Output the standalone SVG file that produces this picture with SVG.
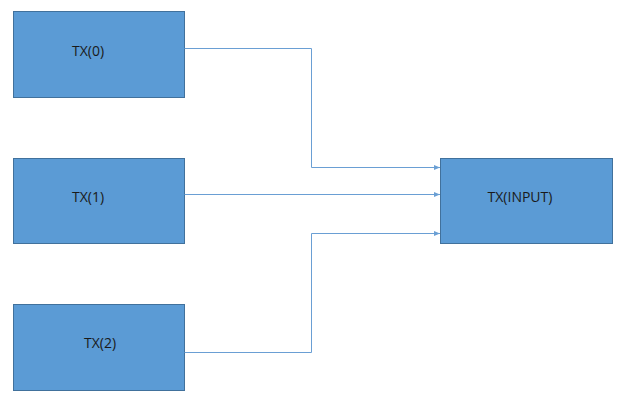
<svg xmlns="http://www.w3.org/2000/svg" width="626" height="404" viewBox="0 0 626 404">
<style>
.box{fill:#5b9bd5;stroke:#41719c;stroke-width:1}
.lbl{font-family:"Open Sans","Liberation Sans",sans-serif;font-size:14px;fill:#1a1a1a;text-anchor:middle}
.con{fill:none;stroke:#6a9fd4;stroke-width:1}
</style>
<defs>
<marker id="ah" viewBox="0 0 10 10" refX="10" refY="5" markerWidth="6" markerHeight="6" orient="auto" markerUnits="userSpaceOnUse">
<path d="M0,1 L10,5 L0,9 z" fill="#6a9fd4"/>
</marker>
</defs>
<g id="tx0"><rect class="box" x="13.5" y="11.5" width="171" height="86"/><text class="lbl" x="88" y="56">TX(0)</text></g>
<g id="tx1"><rect class="box" x="13.5" y="158.5" width="171" height="85"/><text class="lbl" x="88" y="202">TX(1)</text></g>
<g id="tx2"><rect class="box" x="13.5" y="304.5" width="171" height="86"/><text class="lbl" x="100" y="348">TX(2)</text></g>
<g id="txinput"><rect class="box" x="440.5" y="158.5" width="172" height="85"/><text class="lbl" x="520" y="202">TX(INPUT)</text></g>
<g id="connectors">
<path class="con" d="M184.5,48.5 H311.5 V167.5 H440" marker-end="url(#ah)"/>
<path class="con" d="M184.5,194.5 H440" marker-end="url(#ah)"/>
<path class="con" d="M184.5,352.5 H311.5 V233.5 H440" marker-end="url(#ah)"/>
</g>
</svg>
